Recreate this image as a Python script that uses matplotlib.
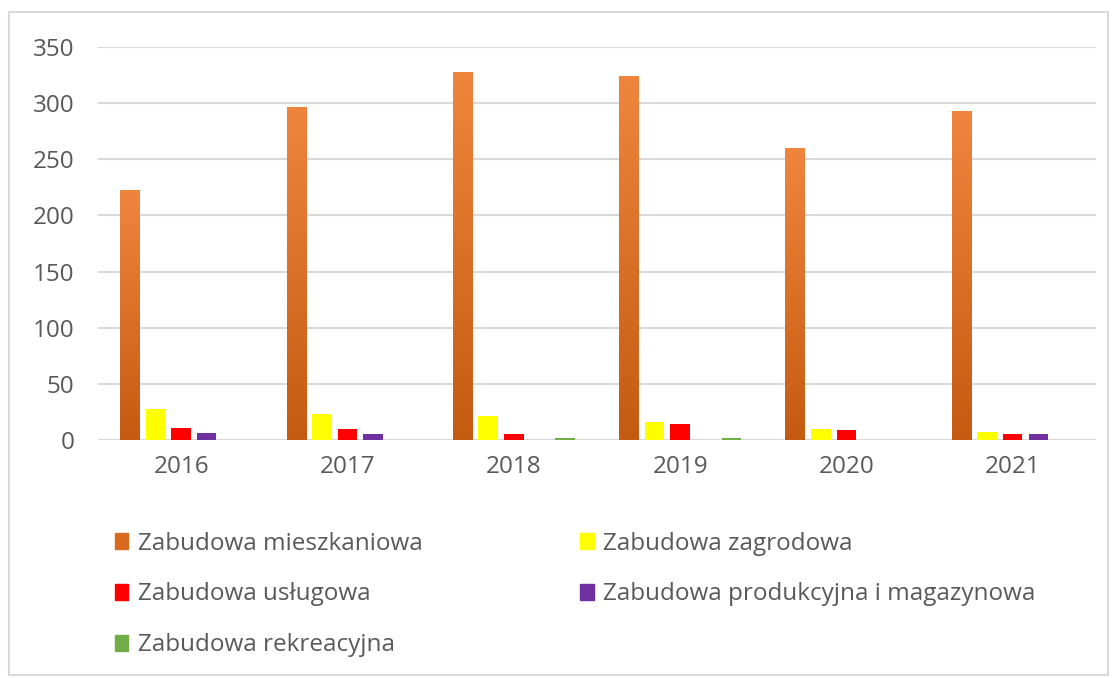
import matplotlib.pyplot as plt
import matplotlib.patches as mpatches
import numpy as np

# Dane
years = ['2016', '2017', '2018', '2019', '2020', '2021']
mieszkaniowa = [223, 297, 328, 324, 260, 293]
zagrodowa = [28, 23, 21, 16, 10, 7]
uslugowa = [11, 10, 5, 14, 9, 5]
produkcyjna = [6, 5, 0, 0, 0, 5]
rekreacyjna = [0, 0, 2, 2, 0, 0]

labels = ['Zabudowa mieszkaniowa', 'Zabudowa zagrodowa', 'Zabudowa usługowa',
          'Zabudowa produkcyjna i magazynowa', 'Zabudowa rekreacyjna']
series = [mieszkaniowa, zagrodowa, uslugowa, produkcyjna, rekreacyjna]
colors = ['#D86A20', '#FFFF00', '#FF0000', '#7030A0', '#70AD47']

plt.rcParams['font.family'] = ['Open Sans', 'DejaVu Sans']

fig = plt.figure(figsize=(11.16, 6.78), dpi=100)
ax = fig.add_axes([0.0878, 0.351, 0.8942, 0.5796])

x = np.arange(len(years))
step = 0.154
width = 0.117
handles = []
for i, (vals, col, lab) in enumerate(zip(series, colors, labels)):
    pos = x + (i - 2) * step
    bars = ax.bar(pos, vals, width, color=col, edgecolor='none', zorder=3, label=lab)
    if i == 0:
        # gradient: jasniejszy u gory, ciemniejszy u dolu
        grad = np.linspace(0, 1, 256).reshape(-1, 1)
        cmap = plt.matplotlib.colors.LinearSegmentedColormap.from_list(
            'og', ['#C55A11', '#F0853D'])
        for b in bars:
            bx, by = b.get_x(), b.get_y()
            im = ax.imshow(grad, cmap=cmap, origin='lower', aspect='auto',
                           extent=[bx, bx + b.get_width(), by, by + b.get_height()],
                           zorder=4)
            im.set_clip_path(b)
    handles.append(mpatches.Patch(color=col, label=lab))

ax.set_xlim(-0.5, 5.5)
ax.set_ylim(0, 350)
ax.set_yticks(range(0, 351, 50))
ax.set_xticks(x)
ax.set_xticklabels(years)
ax.yaxis.grid(True, color='#D9D9D9', linewidth=1.5, zorder=0)
ax.set_axisbelow(True)
for s in ax.spines.values():
    s.set_visible(False)
ax.axhline(0, color='#D9D9D9', linewidth=1.5, zorder=2)
ax.tick_params(axis='both', length=0, labelsize=17.5, colors='#595959', pad=11)
ax.tick_params(axis='y', pad=17)

order = [0, 2, 4, 1, 3]
leg = fig.legend([handles[k] for k in order], [labels[k] for k in order],
                 ncol=2, loc='upper left', bbox_to_anchor=(0.083, 0.248),
                 frameon=False, fontsize=17.5, handlelength=0.55, handleheight=0.65,
                 handletextpad=0.4, columnspacing=6.5, labelspacing=1.1)
for t in leg.get_texts():
    t.set_color('#595959')

# ramka wykresu
fig.add_artist(mpatches.Rectangle((0.008, 0.005), 0.985, 0.977, transform=fig.transFigure,
                                  fill=False, edgecolor='#D9D9D9', linewidth=1.5))

fig.savefig('out.png', dpi=100)
